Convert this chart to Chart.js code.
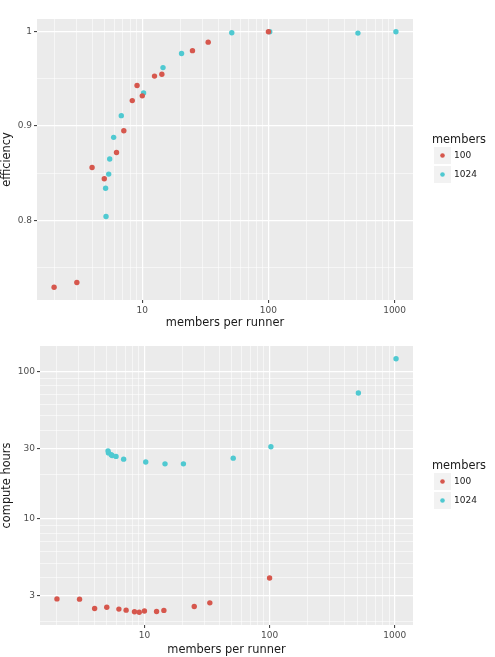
<!DOCTYPE html>
<html>
<head>
<meta charset="utf-8">
<script src="https://cdn.jsdelivr.net/npm/chart.js@4"></script>
<style>
  html, body { margin: 0; padding: 0; background: #fff; }
  #wrap { position: relative; width: 495px; height: 657px; }
  canvas { position: absolute; left: 0; }
</style>
</head>
<body>
<div id="wrap">
  <canvas id="graphic-eff" width="495" height="330" style="top:0;width:495px;height:330px"></canvas>
  <canvas id="graphic-hours" width="495" height="327" style="top:330px;width:495px;height:327px"></canvas>
</div>
<script>
// series: members = 100
const runs100 = [2, 3.03, 4, 5, 6.25, 7.14, 8.33, 9.09, 10, 12.5, 14.3, 25, 33.3, 100];
const eff100 = [0.729, 0.734, 0.856, 0.844, 0.872, 0.895, 0.927, 0.943, 0.932, 0.953, 0.955, 0.980, 0.989, 1.0];
const hours100 = [2.86, 2.85, 2.46, 2.51, 2.44, 2.40, 2.34, 2.32, 2.37, 2.35, 2.39, 2.54, 2.69, 3.97];

// series: members = 1024
const runs1024 = [5.16, 5.12, 5.42, 5.52, 5.93, 6.82, 10.24, 14.6, 20.48, 51.2, 102.4, 512, 1024];
const eff1024 = [0.804, 0.834, 0.849, 0.865, 0.888, 0.911, 0.935, 0.962, 0.977, 0.999, 1.0, 0.9986, 1.0];
const hours1024 = [28.0, 28.9, 27.2, 26.9, 26.5, 25.4, 24.3, 23.6, 23.6, 25.8, 30.8, 71.3, 122];

const memberLabels = ['100', '1024'];
const memberColors = ['#D6574D', '#4FC9D1'];

// tick labels / grid breaks
const xMajors = [10, 100, 1000];
const xMajorLabels = ['10', '100', '1000'];
const effMajors = [0.8, 0.9, 1];
const effMajorLabels = ['0.8', '0.9', '1'];
const effMinors = [0.75, 0.85, 0.95];
const hoursMajors = [3, 10, 30, 100];
const hoursMajorLabels = ['3', '10', '30', '100'];

const FONT = '"DejaVu Sans", sans-serif';

// 2..9 x 10^k lines for log axes
const logLines = [];
for (let k = 0; k <= 3; k++) {
    for (let m = 1; m <= 9; m++) logLines.push(m * Math.pow(10, k));
}

const logRange = vals => {
    const lo = Math.log10(Math.min(...vals));
    const hi = Math.log10(Math.max(...vals));
    const pad = (hi - lo) * 0.05;
    return [Math.pow(10, lo - pad), Math.pow(10, hi + pad)];
};
const linRange = vals => {
    const lo = Math.min(...vals), hi = Math.max(...vals);
    const pad = (hi - lo) * 0.05;
    return [lo - pad, hi + pad];
};

const near = (a, b) => Math.abs(a - b) < 1e-9 * Math.max(1, Math.abs(b));

function makeAxis(type, range, lines, majors, labels, title, size, horizontal) {
    const isMajor = v => majors.some(m => near(v, m));
    return {
        type,
        min: range[0],
        max: range[1],
        afterBuildTicks: s => {
            const all = lines.concat(majors)
                .filter(v => v >= range[0] && v <= range[1])
                .sort((a, b) => a - b)
                .filter((v, i, arr) => i === 0 || !near(v, arr[i - 1]));
            s.ticks = all.map(v => ({ value: v }));
        },
        afterFit: s => {
            if (horizontal) s.height = size;
            else s.width = size;
        },
        ticks: {
            autoSkip: false,
            maxRotation: 0,
            padding: 2,
            color: '#4D4D4D',
            font: { family: FONT, size: 9 },
            callback: v => {
                const i = majors.findIndex(m => near(v, m));
                return i >= 0 ? labels[i] : '';
            }
        },
        grid: {
            color: '#FFFFFF',
            lineWidth: ctx => (ctx.tick && isMajor(ctx.tick.value)) ? 1.2 : 0.55,
            tickColor: ctx => (ctx.tick && isMajor(ctx.tick.value)) ? '#333333' : 'rgba(0,0,0,0)',
            tickLength: 3,
            tickWidth: 1
        },
        border: { display: false },
        title: {
            display: true,
            text: title,
            color: '#1A1A1A',
            font: { family: FONT, size: 11.4 },
            padding: 0
        }
    };
}

const panelBg = {
    id: 'panelBg',
    beforeDraw(chart) {
        const a = chart.chartArea;
        const ctx = chart.ctx;
        ctx.save();
        ctx.fillStyle = '#EBEBEB';
        ctx.fillRect(a.left, a.top, a.right - a.left, a.bottom - a.top);
        ctx.restore();
    }
};

const ggLegend = {
    id: 'ggLegend',
    afterDraw(chart, args, opts) {
        const ctx = chart.ctx;
        const a = chart.chartArea;
        const cy = (a.top + a.bottom) / 2;
        ctx.save();
        ctx.textBaseline = 'middle';
        ctx.textAlign = 'left';
        ctx.fillStyle = '#1A1A1A';
        ctx.font = `11.4px ${FONT}`;
        ctx.fillText(opts.title, 432, cy - 19.5);
        chart.data.datasets.forEach((ds, i) => {
            const y = cy - 4 + i * 19;
            ctx.fillStyle = '#F2F2F2';
            ctx.fillRect(434, y - 8.5, 17, 17);
            ctx.fillStyle = ds.backgroundColor;
            ctx.beginPath();
            ctx.arc(442.5, y, 2.3, 0, Math.PI * 2);
            ctx.fill();
            ctx.fillStyle = '#1A1A1A';
            ctx.font = `9px ${FONT}`;
            ctx.fillText(ds.label, 454, y);
        });
        ctx.restore();
    }
};

const toPoints = (xs, ys) => xs.map((x, i) => ({ x, y: ys[i] }));

function dataset(i, xs, ys) {
    return {
        label: memberLabels[i],
        data: toPoints(xs, ys),
        backgroundColor: memberColors[i],
        borderColor: memberColors[i],
        borderWidth: 0,
        pointRadius: 2.7,
        pointHoverRadius: 2.7
    };
}

const allRuns = runs100.concat(runs1024);
const xRange = logRange(allRuns);

new Chart(document.getElementById('graphic-eff'), {
    type: 'scatter',
    data: {
        datasets: [dataset(0, runs100, eff100), dataset(1, runs1024, eff1024)]
    },
    options: {
        responsive: false,
        animation: false,
        events: [],
        layout: { padding: { top: 19, right: 82, left: 0, bottom: 0 } },
        scales: {
            x: makeAxis('logarithmic', xRange, logLines, xMajors, xMajorLabels, 'members per runner', 30, true),
            y: makeAxis('linear', linRange(eff100.concat(eff1024)), effMinors, effMajors, effMajorLabels, 'efficiency', 37, false)
        },
        plugins: {
            legend: { display: false },
            tooltip: { enabled: false },
            ggLegend: { title: 'members' }
        }
    },
    plugins: [panelBg, ggLegend]
});

new Chart(document.getElementById('graphic-hours'), {
    type: 'scatter',
    data: {
        datasets: [dataset(0, runs100, hours100), dataset(1, runs1024, hours1024)]
    },
    options: {
        responsive: false,
        animation: false,
        events: [],
        layout: { padding: { top: 16, right: 82, left: 0, bottom: 0 } },
        scales: {
            x: makeAxis('logarithmic', xRange, logLines, xMajors, xMajorLabels, 'members per runner', 32, true),
            y: makeAxis('logarithmic', logRange(hours100.concat(hours1024)), logLines, hoursMajors, hoursMajorLabels, 'compute hours', 40, false)
        },
        plugins: {
            legend: { display: false },
            tooltip: { enabled: false },
            ggLegend: { title: 'members' }
        }
    },
    plugins: [panelBg, ggLegend]
});
</script>
</body>
</html>
